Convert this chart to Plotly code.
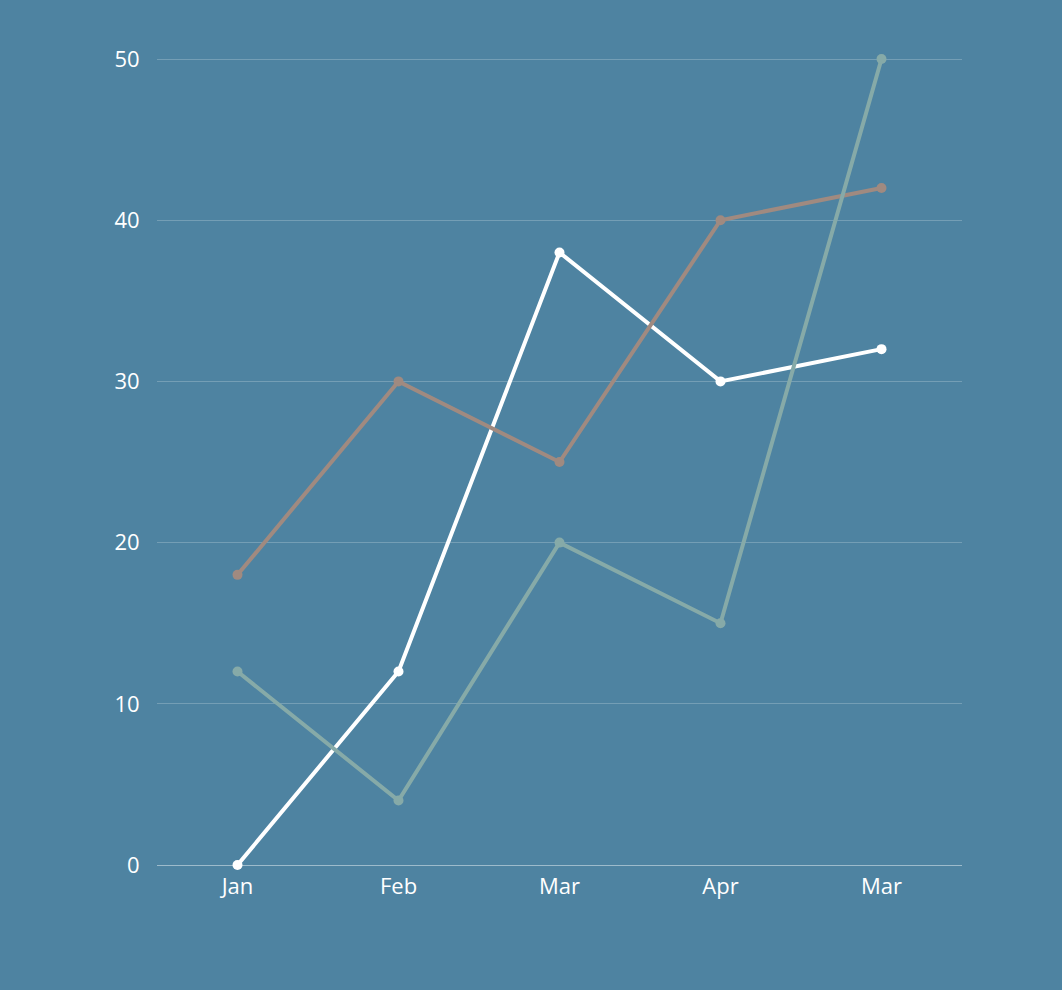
import plotly.graph_objects as go

months = ["Jan", "Feb", "Mar", "Apr", "Mar"]
series_white = [0, 12, 38, 30, 32]
series_brown = [18, 30, 25, 40, 42]
series_green = [12, 4, 20, 15, 50]
y_ticks = [0, 10, 20, 30, 40, 50]

xpos = list(range(len(months)))
bg = "#4e83a1"

fig = go.Figure()
for vals, col in [(series_white, "#ffffff"), (series_brown, "#a08a80"), (series_green, "#86aaa8")]:
    fig.add_trace(go.Scatter(
        x=xpos, y=vals, mode="lines+markers",
        line=dict(color=col, width=4),
        marker=dict(color=col, size=10),
        cliponaxis=False, showlegend=False,
    ))

fig.update_layout(
    width=1062, height=990,
    paper_bgcolor=bg, plot_bgcolor=bg,
    margin=dict(l=157, r=100, t=56, b=125),
    font=dict(family="Open Sans, sans-serif", size=22, color="#ffffff"),
    xaxis=dict(
        range=[-0.5, 4.5], tickvals=xpos, ticktext=months,
        showgrid=False, zeroline=False, showline=False,
        ticks="outside", ticklen=2, tickcolor="rgba(0,0,0,0)",
    ),
    yaxis=dict(
        range=[0, 50.186], tickvals=y_ticks,
        showgrid=True, gridcolor="rgba(255,255,255,0.22)", gridwidth=1,
        zeroline=True, zerolinecolor="rgba(255,255,255,0.45)", zerolinewidth=1,
        showline=False,
        ticks="outside", ticklen=12, tickcolor="rgba(0,0,0,0)",
    ),
)

fig.write_html("out.html", config={"displayModeBar": False},
               post_script="document.body.style.margin='0';")
